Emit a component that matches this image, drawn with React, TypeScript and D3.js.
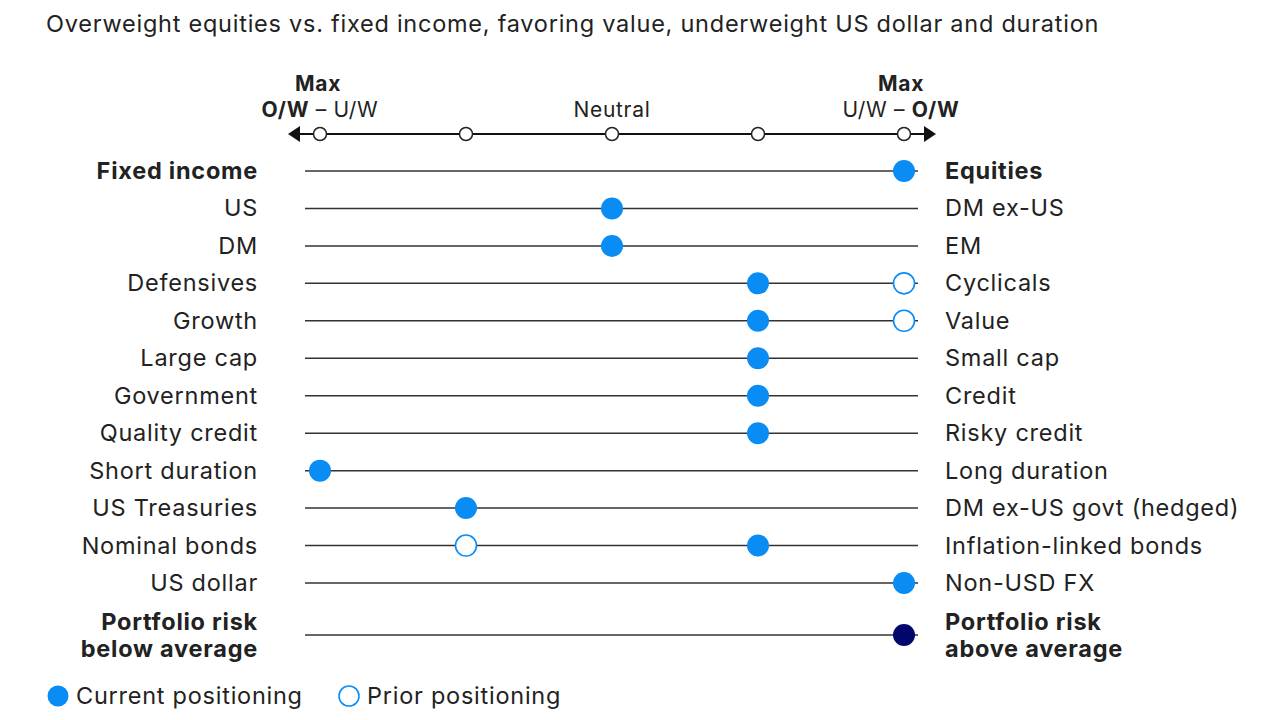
import React, { useRef, useEffect } from 'react';
import * as d3 from 'd3';

const leftLabels = [
  'Fixed income', 'US', 'DM', 'Defensives', 'Growth', 'Large cap', 'Government',
  'Quality credit', 'Short duration', 'US Treasuries', 'Nominal bonds', 'US dollar',
  'Portfolio risk\nbelow average',
];
const rightLabels = [
  'Equities', 'DM ex-US', 'EM', 'Cyclicals', 'Value', 'Small cap', 'Credit',
  'Risky credit', 'Long duration', 'DM ex-US govt (hedged)', 'Inflation-linked bonds',
  'Non-USD FX', 'Portfolio risk\nabove average',
];
// -2 = max toward left side, 2 = max toward right side
const current = [2, 0, 0, 1, 1, 1, 1, 1, -2, -1, 1, 2, 2];
const prior: (number | null)[] = [null, null, null, 2, 2, null, null, null, null, null, -1, null, null];
const boldRows = [0, 12];
const ticks = [-2, -1, 0, 1, 2];

const BLUE = '#0a8cf5';
const NAVY = '#00066b';
const FONT = 'Inter, "Noto Sans", sans-serif';
const FS = 23.5;
const LS = 0.75;

export default function App() {
  const ref = useRef<SVGSVGElement | null>(null);

  useEffect(() => {
    const svg = d3.select(ref.current);
    svg.selectAll('*').remove();

    const x = d3.scaleLinear().domain([-2, 2]).range([320, 904]);
    const rowY = d3.scaleLinear().domain([0, 11]).range([171, 583]);
    const yOf = (i: number) => (i === 12 ? 635 : rowY(i));

    // Title
    svg.append('text')
      .attr('x', 46).attr('y', 32)
      .attr('font-size', FS).attr('letter-spacing', LS).attr('fill', '#222')
      .text('Overweight equities vs. fixed income, favoring value, underweight US dollar and duration');

    // Header axis
    const axisY = 134;
    svg.append('line')
      .attr('x1', x(-2) - 22).attr('x2', x(2) + 22)
      .attr('y1', axisY).attr('y2', axisY)
      .attr('stroke', '#111').attr('stroke-width', 2);
    svg.append('path')
      .attr('d', `M${x(-2) - 32},${axisY} l12,-8 l0,16 z`).attr('fill', '#111');
    svg.append('path')
      .attr('d', `M${x(2) + 32},${axisY} l-12,-8 l0,16 z`).attr('fill', '#111');
    svg.selectAll('circle.tick').data(ticks).join('circle')
      .attr('class', 'tick')
      .attr('cx', d => x(d)).attr('cy', axisY).attr('r', 6.5)
      .attr('fill', '#fff').attr('stroke', '#222').attr('stroke-width', 1.5);

    const hdr = svg.append('g').attr('font-size', 21).attr('letter-spacing', 0.7)
      .attr('fill', '#222').attr('text-anchor', 'middle');
    hdr.append('text').attr('x', x(-2) - 2).attr('y', 91).attr('font-weight', 700).text('Max');
    hdr.append('text').attr('x', x(2) - 3).attr('y', 91).attr('font-weight', 700).text('Max');
    hdr.append('text').attr('x', x(0)).attr('y', 117).text('Neutral');
    const l = hdr.append('text').attr('x', x(-2)).attr('y', 117);
    l.append('tspan').attr('font-weight', 700).text('O/W');
    l.append('tspan').text(' – U/W');
    const r = hdr.append('text').attr('x', x(2) - 3).attr('y', 117);
    r.append('tspan').text('U/W – ');
    r.append('tspan').attr('font-weight', 700).text('O/W');

    // Rows
    const rows = svg.append('g');
    leftLabels.forEach((lab, i) => {
      const y = yOf(i);
      const bold = boldRows.includes(i);
      rows.append('line')
        .attr('x1', 305).attr('x2', 918).attr('y1', y).attr('y2', y)
        .attr('stroke', '#333').attr('stroke-width', 1.5);

      const addLabel = (txt: string, tx: number, anchor: string) => {
        const lines = txt.split('\n');
        const t = rows.append('text')
          .attr('x', tx).attr('text-anchor', anchor)
          .attr('font-size', FS).attr('letter-spacing', LS).attr('fill', '#222')
          .attr('font-weight', bold ? 700 : 400);
        lines.forEach((ln, k) => {
          t.append('tspan').attr('x', tx)
            .attr('y', y + 8 + (k - (lines.length - 1) / 2) * 27)
            .text(ln);
        });
      };
      addLabel(lab, 258, 'end');
      addLabel(rightLabels[i], 945, 'start');

      const p = prior[i];
      if (p !== null) {
        rows.append('circle')
          .attr('cx', x(p)).attr('cy', y).attr('r', 10.5)
          .attr('fill', '#fff').attr('stroke', BLUE).attr('stroke-width', 1.6);
      }
      rows.append('circle')
        .attr('cx', x(current[i])).attr('cy', y).attr('r', 11)
        .attr('fill', i === 12 ? NAVY : BLUE);
    });

    // Legend
    const lg = svg.append('g').attr('font-size', FS).attr('letter-spacing', LS).attr('fill', '#222');
    lg.append('circle').attr('cx', 58).attr('cy', 696).attr('r', 10.5).attr('fill', BLUE);
    lg.append('text').attr('x', 76).attr('y', 704).text('Current positioning');
    lg.append('circle').attr('cx', 349).attr('cy', 696).attr('r', 10)
      .attr('fill', '#fff').attr('stroke', BLUE).attr('stroke-width', 1.6);
    lg.append('text').attr('x', 367).attr('y', 704).text('Prior positioning');
  }, []);

  return (
    <svg
      ref={ref}
      width={1280}
      height={720}
      style={{ position: 'absolute', left: 0, top: 0, background: '#fff', fontFamily: FONT }}
    />
  );
}
